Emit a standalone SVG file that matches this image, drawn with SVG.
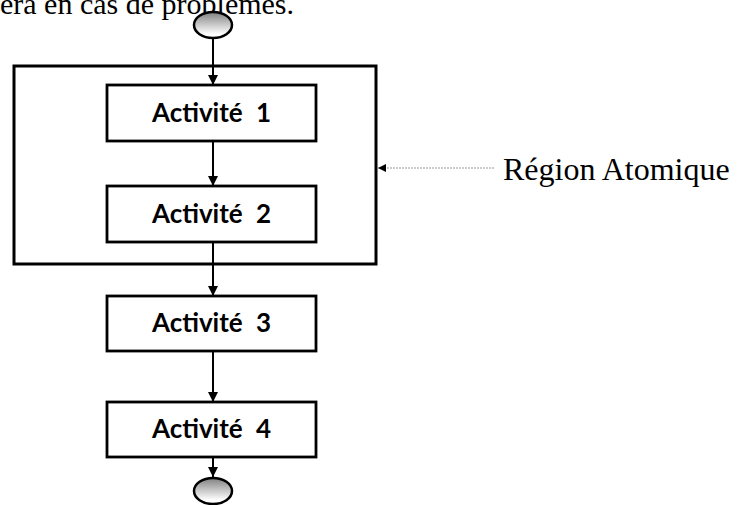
<svg xmlns="http://www.w3.org/2000/svg" width="744" height="505" viewBox="0 0 744 505">
  <style>
    .serif { font-family: "Liberation Serif", "Times New Roman", serif; font-size: 30px; fill: #000; }
    .label { font-size: 32px; }
    .act rect { fill: #fff; stroke: #000; stroke-width: 2.8; }
    .act text { font-family: Lato, "Open Sans", sans-serif; font-weight: bold; font-size: 26px; text-anchor: middle; word-spacing: 7px; fill: #000; }
    .flow { stroke: #000; stroke-width: 2; fill: none; marker-end: url(#arrow); }
    .term { fill: url(#termFill); stroke: #000; stroke-width: 2.5; }
  </style>
  <defs>
    <linearGradient id="termFill" x1="0" y1="0" x2="0" y2="1">
      <stop offset="0" stop-color="#808080"/>
      <stop offset="0.85" stop-color="#ffffff"/>
    </linearGradient>
    <marker id="arrow" viewBox="0 0 10 10" refX="10" refY="5" markerWidth="5" markerHeight="5" markerUnits="strokeWidth" orient="auto">
      <path d="M0,0 L10,5 L0,10 z" fill="#000"/>
    </marker>
    <marker id="arrowSmall" viewBox="0 0 10 10" refX="10" refY="5" markerWidth="8" markerHeight="8" markerUnits="userSpaceOnUse" orient="auto">
      <path d="M0,0 L10,5 L0,10 z" fill="#000"/>
    </marker>
  </defs>

  <!-- trailing line of the preceding paragraph -->
  <text class="serif" x="0" y="14">era en cas de problèmes.</text>

  <!-- atomic region frame -->
  <g id="region">
    <rect x="14" y="66" width="362" height="198" fill="none" stroke="#000" stroke-width="3"/>
  </g>

  <!-- connectors -->
  <g id="connectors">
    <line class="flow" x1="213" y1="38" x2="213" y2="85"/>
    <line class="flow" x1="213" y1="141" x2="213" y2="186"/>
    <line class="flow" x1="213" y1="242" x2="213" y2="296"/>
    <line class="flow" x1="213" y1="351" x2="213" y2="402"/>
    <line class="flow" x1="213" y1="457" x2="213" y2="477"/>
    <line x1="494" y1="168" x2="378" y2="168" stroke="#999" stroke-width="1" stroke-dasharray="2 1" marker-end="url(#arrowSmall)"/>
  </g>

  <g id="start">
    <ellipse class="term" cx="213" cy="25" rx="19" ry="13"/>
  </g>

  <g id="act1" class="act">
    <rect x="107" y="85" width="209" height="56"/>
    <text x="211.5" y="122">Activité 1</text>
  </g>
  <g id="act2" class="act">
    <rect x="107" y="186" width="209" height="56"/>
    <text x="211.5" y="223">Activité 2</text>
  </g>
  <g id="act3" class="act">
    <rect x="107" y="296" width="209" height="55"/>
    <text x="211.5" y="332">Activité 3</text>
  </g>
  <g id="act4" class="act">
    <rect x="107" y="402" width="209" height="55"/>
    <text x="211.5" y="438">Activité 4</text>
  </g>

  <g id="end">
    <ellipse class="term" cx="213" cy="491" rx="19" ry="13"/>
  </g>

  <g id="region-label">
    <text class="serif label" x="503" y="180">Région Atomique</text>
  </g>
</svg>
